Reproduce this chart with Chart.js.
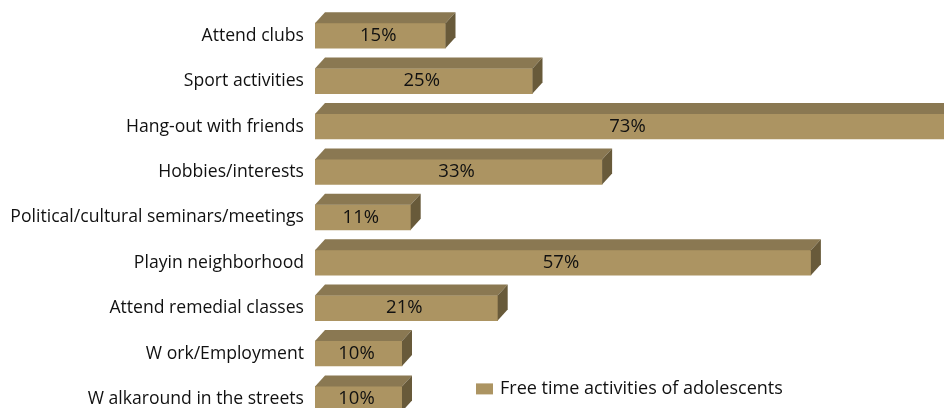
<!DOCTYPE html>
<html>
<head>
<meta charset="utf-8">
<script src="https://cdn.jsdelivr.net/npm/chart.js@4"></script>
<style>
  html, body { margin: 0; padding: 0; background: #fff; overflow: hidden; }
  #wrap { width: 944px; height: 408px; overflow: hidden; }
  #chart { display: block; margin-top: -12.4px; }
</style>
</head>
<body>
<div id="wrap"><canvas id="chart" width="944" height="460"></canvas></div>
<script>
// ===== data =====
const categories = [
  'Attend clubs',
  'Sport activities',
  'Hang-out with friends',
  'Hobbies/interests',
  'Political/cultural seminars/meetings',
  'Playin neighborhood',
  'Attend remedial classes',
  'W ork/Employment',
  'W alkaround in the streets'
];
const shares = [15, 25, 73, 33, 11, 57, 21, 10, 10];
const seriesLabel = 'Free time activities of adolescents';

const FONT = '"Open Sans", sans-serif';
const FRONT = '#ac9462';
const TOP = '#8a7852';
const SIDE = '#685a3a';
const DEPTH_X = 10;
const DEPTH_Y = 11;
const SHIFT = 12.4; // canvas is pulled up by this much

// top + right faces of each bar, then the % label on the front
const bar3d = {
  id: 'bar3d',
  afterDatasetsDraw(chart) {
    const ctx = chart.ctx;
    const meta = chart.getDatasetMeta(0);
    ctx.save();
    meta.data.forEach((bar, i) => {
      const p = bar.getProps(['x', 'y', 'base', 'height'], true);
      const x0 = p.base, x1 = p.x;
      const yt = p.y - p.height / 2, yb = p.y + p.height / 2;

      ctx.fillStyle = TOP;
      ctx.beginPath();
      ctx.moveTo(x0, yt);
      ctx.lineTo(x1, yt);
      ctx.lineTo(x1 + DEPTH_X, yt - DEPTH_Y);
      ctx.lineTo(x0 + DEPTH_X, yt - DEPTH_Y);
      ctx.closePath();
      ctx.fill();

      ctx.fillStyle = SIDE;
      ctx.beginPath();
      ctx.moveTo(x1, yt);
      ctx.lineTo(x1 + DEPTH_X, yt - DEPTH_Y);
      ctx.lineTo(x1 + DEPTH_X, yb - DEPTH_Y);
      ctx.lineTo(x1, yb);
      ctx.closePath();
      ctx.fill();

      const right = Math.min(x1, chart.chartArea.right);
      ctx.fillStyle = '#111';
      ctx.font = '18.5px ' + FONT;
      ctx.textAlign = 'center';
      ctx.textBaseline = 'middle';
      ctx.fillText(shares[i] + '%', (x0 + right) / 2 - 2, p.y);
    });
    ctx.restore();
  },
  afterDraw(chart) {
    // legend sits inside the plot, bottom right
    const ctx = chart.ctx;
    ctx.save();
    ctx.fillStyle = FRONT;
    ctx.fillRect(476, 383 + SHIFT, 17, 11);
    ctx.fillStyle = '#111';
    ctx.font = '18px ' + FONT;
    ctx.textAlign = 'left';
    ctx.textBaseline = 'middle';
    ctx.fillText(chart.data.datasets[0].label, 500, 388 + SHIFT);
    ctx.restore();
  }
};

new Chart(document.getElementById('chart'), {
  type: 'bar',
  data: {
    labels: categories,
    datasets: [{
      label: seriesLabel,
      data: shares,
      backgroundColor: FRONT,
      borderWidth: 0,
      barThickness: 25
    }]
  },
  options: {
    indexAxis: 'y',
    responsive: false,
    animation: false,
    layout: { padding: { top: 25, bottom: 26.4, left: 0, right: 0 } },
    plugins: {
      legend: { display: false },
      tooltip: { enabled: false }
    },
    scales: {
      x: {
        display: false,
        min: 0,
        max: 72.3
      },
      y: {
        grid: { display: false, drawTicks: false },
        border: { display: false },
        ticks: {
          color: '#111',
          padding: 11,
          font: { family: FONT, size: 17.6 }
        },
        afterFit(scale) { scale.width = 315; }
      }
    }
  },
  plugins: [bar3d]
});
</script>
</body>
</html>
